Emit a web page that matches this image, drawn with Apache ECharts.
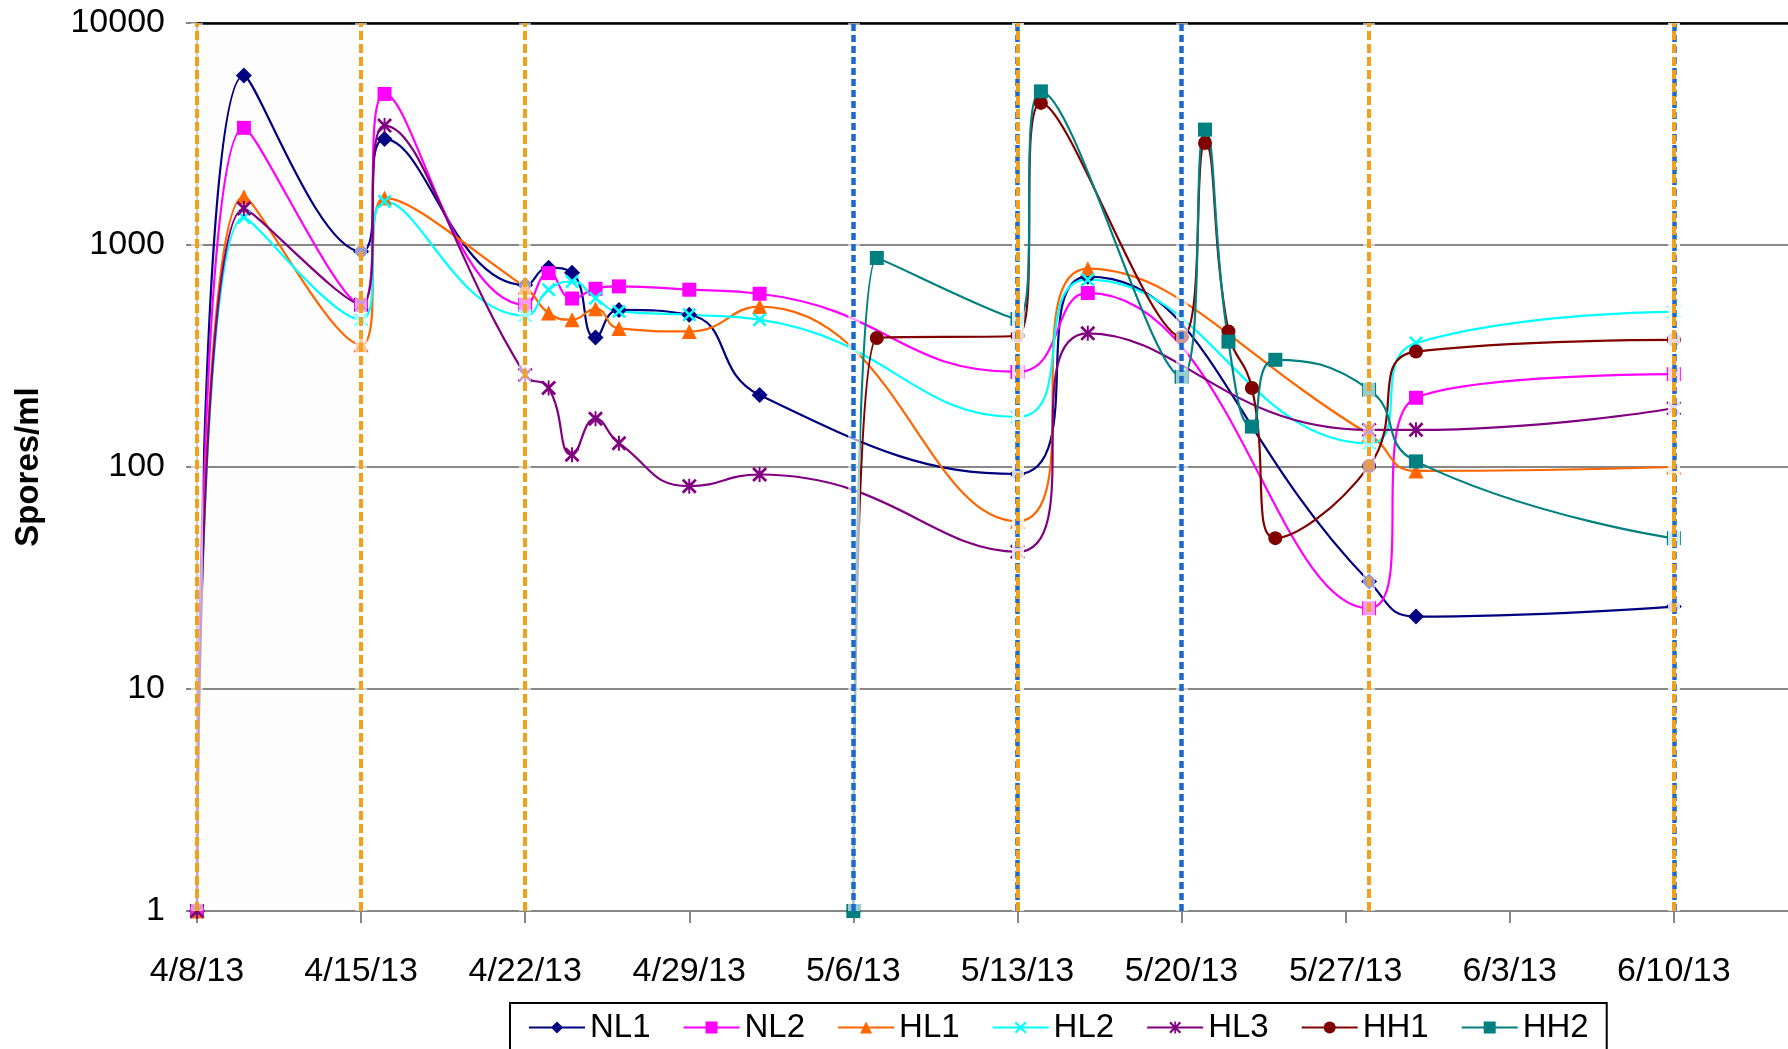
<!DOCTYPE html>
<html>
<head>
<meta charset="utf-8">
<script src="https://cdn.jsdelivr.net/npm/echarts@6/dist/echarts.min.js"></script>
<style>
  html, body { margin: 0; padding: 0; background: #ffffff; }
  #chart { width: 1788px; height: 1049px; }
</style>
</head>
<body>
<div id="chart"></div>
<script>
// Sampling dates of the NL / HL tanks
const nlhlDates = ['4/8/13', '4/10/13', '4/15/13', '4/16/13', '4/22/13', '4/23/13', '4/24/13', '4/25/13',
  '4/26/13', '4/29/13', '5/2/13', '5/13/13', '5/16/13', '5/28/13', '5/30/13', '6/10/13'];
// Sampling dates of the HH tanks
const hhDates = ['5/6/13', '5/7/13', '5/13/13', '5/14/13', '5/20/13', '5/21/13', '5/22/13', '5/23/13',
  '5/24/13', '5/28/13', '5/30/13', '6/10/13'];

// Spore counts (spores/ml)
const NL1 = [1, 5800, 936, 3000, 660, 790, 750, 383, 510, 485, 211, 93, 720, 30.5, 21.2, 23.5];
const NL2 = [1, 3370, 538, 4790, 538, 747, 574, 635, 651, 629, 603, 268, 608, 23.1, 205, 262];
const HL1 = [1, 1650, 355, 1630, 645, 494, 461, 516, 421, 408, 528, 57, 782, 140, 96, 100];
const HL2 = [1, 1330, 461, 1572, 480, 629, 685, 576, 502, 485, 461, 168, 698, 128, 362, 500];
const HL3 = [1, 1460, 540, 3451, 260, 227, 113.5, 165, 128, 82, 92.5, 41.5, 400, 147, 147, 184];
const HH1 = [1, 381, 390, 4365, 385, 2880, 408, 227, 47.8, 101, 331, 374];
const HH2 = [1, 874, 465, 4920, 255, 3311, 367, 152, 304, 223, 106, 47.8];

// Event markers (vertical dashed lines)
const orangeEventDates = ['4/8/13', '4/15/13', '4/22/13', '5/13/13', '5/28/13', '6/10/13'];
const blueEventDates = ['5/6/13', '5/13/13', '5/20/13', '6/10/13'];
// Shaded first week
const shadedWeek = ['4/8/13', '4/15/13'];

// Axis ticks
const xTickLabels = ['4/8/13', '4/15/13', '4/22/13', '4/29/13', '5/6/13', '5/13/13', '5/20/13',
  '5/27/13', '6/3/13', '6/10/13'];

const DAY = 86400000;
const START = Date.UTC(2013, 3, 8);
function dayOf(s) {
  const [m, d, y] = s.split('/').map(Number);
  return Math.round((Date.UTC(2000 + y, m - 1, d) - START) / DAY);
}
function labelOf(day) {
  const dt = new Date(START + Math.round(day) * DAY);
  return (dt.getUTCMonth() + 1) + '/' + dt.getUTCDate() + '/' + String(dt.getUTCFullYear()).slice(2);
}
function pairs(dates, values) {
  return dates.map((d, i) => [dayOf(d), values[i]]);
}

const FONT = 'Liberation Sans';
const X_PATH = 'path://M0,1.3L1.3,0L5,3.7L8.7,0L10,1.3L6.3,5L10,8.7L8.7,10L5,6.3L1.3,10L0,8.7L3.7,5Z';
const STAR_PATH = X_PATH + 'M4.35,0L5.65,0L5.65,10L4.35,10Z';

const seriesDefs = [
  { name: 'NL1', dates: nlhlDates, values: NL1, color: '#000080', symbol: 'diamond', size: 16 },
  { name: 'NL2', dates: nlhlDates, values: NL2, color: '#FF00FF', symbol: 'rect', size: 14 },
  { name: 'HL1', dates: nlhlDates, values: HL1, color: '#FF6600', symbol: 'triangle', size: 15 },
  { name: 'HL2', dates: nlhlDates, values: HL2, color: '#00FFFF', symbol: X_PATH, size: 14 },
  { name: 'HL3', dates: nlhlDates, values: HL3, color: '#800080', symbol: STAR_PATH, size: 15 },
  { name: 'HH1', dates: hhDates, values: HH1, color: '#800000', symbol: 'circle', size: 14 },
  { name: 'HH2', dates: hhDates, values: HH2, color: '#008080', symbol: 'rect', size: 14 }
];

const dataSeries = seriesDefs.map(s => ({
  name: s.name,
  type: 'line',
  data: pairs(s.dates, s.values),
  smooth: 0.5,
  symbol: s.symbol,
  symbolSize: s.size,
  showAllSymbol: true,
  z: 2,
  lineStyle: { color: s.color, width: 2.2 },
  itemStyle: { color: s.color, borderWidth: 0 }
}));

const ORANGE = '#F2A11A';
const BLUE = '#1C68CC';

function vLines(dates, style) {
  return dates.map(d => ({ xAxis: dayOf(d), lineStyle: style }));
}

const guideSeries = {
  name: 'events',
  type: 'line',
  data: [],
  silent: true,
  z: 4,
  markArea: {
    silent: true,
    itemStyle: { color: 'rgba(0,0,0,0.006)' },
    data: [[{ xAxis: dayOf(shadedWeek[0]) }, { xAxis: dayOf(shadedWeek[1]) }]]
  },
  markLine: {
    silent: true,
    symbol: ['none', 'none'],
    label: { show: false },
    animation: false,
    data: [
      { yAxis: 10000, lineStyle: { color: '#000000', width: 2.5, type: 'solid' } },
      ...vLines(blueEventDates.concat(orangeEventDates),
        { color: 'rgba(255,255,255,0.6)', width: 12, type: 'solid' }),
      ...vLines(blueEventDates, { color: BLUE, width: 4.5, type: [7, 4] }),
      ...vLines(orangeEventDates, { color: ORANGE, width: 4, type: [9, 4] })
    ]
  }
};

const chart = echarts.init(document.getElementById('chart'), null, { renderer: 'canvas' });
chart.setOption({
  animation: false,
  backgroundColor: '#ffffff',
  textStyle: { fontFamily: FONT },
  grid: { left: 197, right: 0, top: 23, bottom: 138, containLabel: false },
  legend: {
    data: seriesDefs.map(s => s.name),
    left: 510,
    top: 1003,
    orient: 'horizontal',
    itemWidth: 56,
    itemHeight: 15,
    itemGap: 32,
    padding: [8, 18, 20, 18],
    borderColor: '#000000',
    borderWidth: 2,
    textStyle: { fontFamily: FONT, fontSize: 33, color: '#000000', padding: [0, 0, 0, 0] }
  },
  xAxis: {
    type: 'value',
    min: 0,
    max: 67.87,
    interval: 7,
    axisLine: { show: true, onZero: false, lineStyle: { color: '#868686', width: 2 } },
    axisTick: {
      show: true, length: 12, inside: false,
      customValues: xTickLabels.map(dayOf),
      lineStyle: { color: '#868686', width: 2 }
    },
    axisLabel: {
      customValues: xTickLabels.map(dayOf),
      margin: 44,
      fontFamily: FONT,
      fontSize: 34,
      color: '#000000',
      formatter: v => labelOf(v)
    },
    splitLine: { show: false }
  },
  yAxis: {
    type: 'log',
    logBase: 10,
    min: 1,
    max: 10000,
    name: 'Spores/ml',
    nameLocation: 'middle',
    nameRotate: 90,
    nameGap: 152,
    nameTextStyle: { fontFamily: FONT, fontSize: 33, fontWeight: 'bold', color: '#000000' },
    axisLine: { show: true, lineStyle: { color: '#868686', width: 2 } },
    axisTick: { show: true, length: 11, lineStyle: { color: '#868686', width: 2 } },
    axisLabel: {
      margin: 32,
      fontFamily: FONT,
      fontSize: 34,
      color: '#000000',
      formatter: v => String(Math.round(v))
    },
    splitLine: { show: true, lineStyle: { color: '#888888', width: 2 } }
  },
  series: dataSeries.concat([guideSeries])
});
</script>
</body>
</html>
